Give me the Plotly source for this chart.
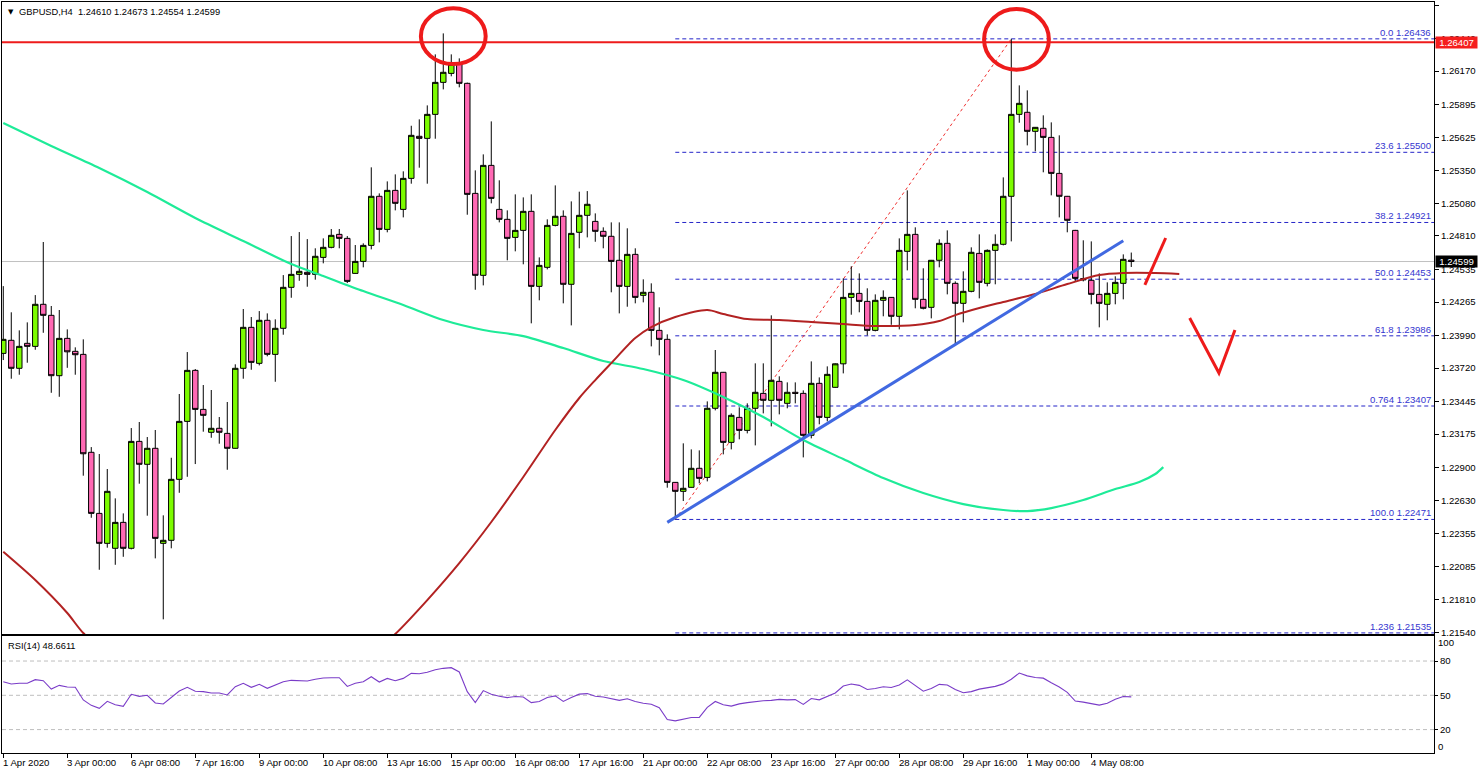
import plotly.graph_objects as go

# ---------------- data ----------------
symbol_title = "GBPUSD,H4  1.24610 1.24673 1.24554 1.24599"

opens = [1.23841,1.23949,1.23718,1.23924,1.23899,1.24246,1.24155,1.23657,1.23965,1.23858,
         1.23833,1.23025,1.22521,1.22274,1.22233,1.22447,1.22233,1.23115,1.22926,1.23058,
         1.22274,1.22299,1.22802,1.23280,1.23701,1.23379,1.23190,1.23223,1.23181,1.23058,
         1.23718,1.24056,1.23759,1.24114,1.23833,1.24048,1.24386,1.24493,1.24510,1.24493,
         1.24633,1.24716,1.24823,1.24790,1.24501,1.24600,1.24732,1.25137,1.24864,1.25186,
         1.25029,1.25285,1.25632,1.25615,1.25813,1.26077,1.26151,1.26234,1.26069,1.25161,
         1.24485,1.25392,1.25029,1.24947,1.24798,1.24856,1.25013,1.24394,1.24551,1.24897,
         1.24972,1.24411,1.24840,1.24980,1.24930,1.24848,1.24807,1.24609,1.24394,1.24658,
         1.24320,1.24345,1.24031,1.23957,1.22777,1.22703,1.22736,1.22893,1.22818,1.23388,
         1.23685,1.23107,1.23313,1.23206,1.23388,1.23511,1.23454,1.23610,1.23429,1.23520,
         1.23511,1.23165,1.23594,1.23313,1.23561,1.23755,1.24303,1.24336,1.24270,1.24031,
         1.24279,1.24303,1.24147,1.24683,1.24823,1.24287,1.24221,1.24609,1.24749,1.24419,
         1.24254,1.24353,1.24666,1.24419,1.24691,1.24741,1.25137,1.25813,1.25830,1.25673,
         1.25698,1.25623,1.25326,1.25137,1.24856,1.24458,1.24444,1.24328,1.24246,1.24336,
         1.24419,1.24610]
highs = [1.24396,1.24180,1.24031,1.24097,1.24322,1.24760,1.24232,1.24199,1.24039,1.23891,
         1.23957,1.23068,1.23011,1.22887,1.22645,1.22521,1.23225,1.23275,1.23151,1.23209,
         1.22505,1.22980,1.23506,1.23852,1.23712,1.23580,1.23539,1.23316,1.23440,1.23751,
         1.24207,1.24141,1.24190,1.24171,1.24122,1.24487,1.24809,1.24842,1.24784,1.24708,
         1.24790,1.24867,1.24867,1.24809,1.24735,1.24749,1.25376,1.25161,1.25260,1.25318,
         1.25343,1.25719,1.25772,1.25887,1.26308,1.26481,1.26308,1.26275,1.26075,1.25351,
         1.25483,1.25755,1.25269,1.25021,1.25153,1.25128,1.25153,1.24633,1.24947,1.25227,
         1.25021,1.25095,1.25175,1.25180,1.24996,1.24881,1.24922,1.24922,1.24873,1.24708,
         1.24452,1.24419,1.24221,1.23998,1.22780,1.23099,1.23049,1.23041,1.23445,1.23869,
         1.23688,1.23346,1.23396,1.23429,1.23759,1.23759,1.24155,1.23652,1.23602,1.23602,
         1.23536,1.23775,1.23643,1.23734,1.23759,1.24460,1.24559,1.24501,1.24378,1.24328,
         1.24361,1.24306,1.24790,1.25186,1.24881,1.24543,1.24612,1.24782,1.24856,1.24435,
         1.24518,1.24716,1.24823,1.24699,1.24823,1.25293,1.26436,1.26052,1.26011,1.25708,
         1.25805,1.25747,1.25640,1.25140,1.24860,1.24774,1.24765,1.24501,1.24427,1.24477,
         1.24658,1.24673]
lows = [1.23786,1.23632,1.23665,1.23764,1.23871,1.24011,1.23516,1.23483,1.23722,1.23665,
        1.22832,1.22485,1.22056,1.22238,1.22097,1.22163,1.22224,1.22766,1.22502,1.22150,
        1.21647,1.22233,1.22691,1.22823,1.22928,1.23195,1.23145,1.23096,1.22881,1.23055,
        1.23632,1.23706,1.23742,1.23817,1.23607,1.23995,1.24300,1.24440,1.24391,1.24449,
        1.24584,1.24708,1.24708,1.24421,1.24498,1.24551,1.24699,1.24757,1.24840,1.25021,
        1.24963,1.25241,1.25373,1.25241,1.25612,1.26019,1.26127,1.26036,1.24985,1.24366,
        1.24402,1.25079,1.24922,1.24609,1.24683,1.24576,1.24089,1.24279,1.24534,1.24889,
        1.24254,1.24072,1.24708,1.24798,1.24762,1.24708,1.24345,1.24171,1.24226,1.24254,
        1.24262,1.23899,1.23825,1.22733,1.22471,1.22623,1.22733,1.22769,1.22785,1.23371,
        1.23008,1.23049,1.23132,1.23181,1.23082,1.23346,1.23239,1.23338,1.23388,1.23429,
        1.22983,1.23140,1.23256,1.23280,1.23558,1.23676,1.24160,1.24180,1.23990,1.24023,
        1.24147,1.24077,1.24039,1.24526,1.24213,1.24204,1.24130,1.24551,1.24328,1.23912,
        1.24097,1.24345,1.24295,1.24394,1.24411,1.24732,1.24765,1.25744,1.25557,1.25508,
        1.25335,1.25145,1.24963,1.24840,1.24435,1.24435,1.24246,1.24056,1.24114,1.24246,
        1.24287,1.24554]
closes = [1.23957,1.23718,1.23899,1.23899,1.24246,1.24155,1.23657,1.23965,1.23854,1.23830,
          1.23013,1.22521,1.22274,1.22703,1.22447,1.22233,1.23115,1.22926,1.23058,1.22315,
          1.22299,1.22802,1.23280,1.23701,1.23379,1.23330,1.23223,1.23190,1.23058,1.23718,
          1.24056,1.23767,1.24114,1.23833,1.24048,1.24386,1.24493,1.24518,1.24493,1.24642,
          1.24716,1.24815,1.24790,1.24435,1.24600,1.24732,1.25137,1.24864,1.25186,1.25079,
          1.25285,1.25640,1.25615,1.25813,1.26077,1.26160,1.26226,1.26069,1.25153,1.24485,
          1.25392,1.25120,1.24947,1.24790,1.24856,1.25013,1.24394,1.24567,1.24897,1.24972,
          1.24411,1.24831,1.24980,1.25071,1.24848,1.24807,1.24600,1.24394,1.24658,1.24303,
          1.24345,1.24031,1.23957,1.22777,1.22703,1.22728,1.22893,1.22810,1.23388,1.23685,
          1.23107,1.23330,1.23206,1.23388,1.23520,1.23454,1.23619,1.23454,1.23520,1.23511,
          1.23165,1.23594,1.23313,1.23668,1.23755,1.24303,1.24336,1.24270,1.24031,1.24279,
          1.24303,1.24147,1.24691,1.24823,1.24287,1.24213,1.24609,1.24749,1.24419,1.24254,
          1.24353,1.24675,1.24427,1.24691,1.24741,1.25137,1.25813,1.25904,1.25673,1.25706,
          1.25623,1.25326,1.25137,1.24939,1.24460,1.24448,1.24328,1.24254,1.24336,1.24427,
          1.24617,1.24599]

rsi_values = [61.9,59.9,60.5,60.5,63.7,62.8,55.5,58.7,57.3,57.0,
              45.9,41.2,38.6,44.7,41.8,40.3,50.9,49.1,50.0,43.3,
              42.4,48.2,53.8,57.0,53.5,53.2,52.0,52.0,50.3,57.6,
              60.5,57.0,59.6,56.1,58.7,61.9,63.1,63.1,62.5,64.0,
              65.1,65.4,65.4,57.8,60.5,61.9,66.3,61.6,64.8,62.8,
              64.8,69.2,68.9,70.1,72.4,73.6,74.2,70.4,53.2,43.6,
              54.1,50.9,49.1,48.0,49.0,48.5,43.6,44.6,48.0,49.5,
              44.6,48.0,51.0,51.5,49.1,48.5,47.0,45.6,47.0,44.6,
              43.0,42.2,39.2,28.8,27.6,29.2,30.6,30.7,39.5,44.6,
              41.8,40.5,42.5,43.6,44.7,45.2,45.6,46.4,46.0,46.2,
              42.0,47.2,46.0,48.8,52.0,58.1,59.9,58.7,55.1,56.0,
              57.5,56.8,59.0,63.5,58.9,53.6,56.0,59.6,59.0,55.0,
              52.2,53.2,55.4,56.5,57.8,60.0,64.0,69.5,67.0,65.6,
              65.0,61.0,57.3,52.6,45.0,44.0,43.0,41.4,43.0,46.5,
              49.0,48.66]
rsi_label = "RSI(14) 48.6611"

# moving averages (bar number, price)
ma_green_bar = [0,6,12,18,24,30,36,40,45,50,55,60,65,70,75,80,85,90,95,100,
                105,110,115,120,125,128,131,135,139,142,144,145]
ma_green_val = [1.25741,1.25552,1.25370,1.25172,1.24958,1.24768,1.24578,1.24479,1.24355,1.24240,
                1.24116,1.24034,1.23984,1.23885,1.23778,1.23712,1.23621,1.23481,1.23316,1.23126,
                1.22969,1.22813,1.22689,1.22598,1.22549,1.22540,1.22565,1.22631,1.22722,1.22780,
                1.22846,1.22903]
ma_red_bar = [0,4,8,10,14,20,30,40,46,49,53,57,61,65,69,72,74,76,79,81,84,88,90,93,97,101,
              105,109,114,117,119,122,125,129,133,137,140,144,147]
ma_red_val = [1.22204,1.21971,1.21699,1.21534,1.21311,1.21063,1.20898,1.21146,1.21352,1.21526,
              1.21806,1.22111,1.22450,1.22821,1.23209,1.23473,1.23621,1.23761,1.23968,1.24058,
              1.24141,1.24199,1.24166,1.24124,1.24116,1.24100,1.24083,1.24067,1.24075,1.24108,
              1.24157,1.24215,1.24265,1.24331,1.24413,1.24487,1.24504,1.24504,1.24496]

fib_names = ["0.0", "23.6", "38.2", "50.0", "61.8", "0.764", "100.0", "1.236"]
fib_levels = [1.26436, 1.25500, 1.24921, 1.24453, 1.23986, 1.23407, 1.22471, 1.21535]
fib_low_bar, fib_high_bar = 84, 126

resistance_level = 1.26407
last_price = 1.24599

price_ticks = [1.26715, 1.26440, 1.26170, 1.25895, 1.25625, 1.25350, 1.25080, 1.24810,
               1.24535, 1.24265, 1.23990, 1.23720, 1.23445, 1.23175, 1.22900, 1.22630,
               1.22355, 1.22085, 1.21810, 1.21540]
rsi_ticks = [80, 50, 20]

time_tick_bars = [0, 8, 16, 24, 32, 40, 48, 56, 64, 72, 80, 88, 96, 104, 112, 120, 128, 136]
time_tick_text = ["1 Apr 2020", "3 Apr 00:00", "6 Apr 08:00", "7 Apr 16:00", "9 Apr 00:00",
                  "10 Apr 08:00", "13 Apr 16:00", "15 Apr 00:00", "16 Apr 08:00", "17 Apr 16:00",
                  "21 Apr 00:00", "22 Apr 08:00", "23 Apr 16:00", "27 Apr 00:00", "28 Apr 08:00",
                  "29 Apr 16:00", "1 May 00:00", "4 May 08:00"]

# trend line drawn on the chart (bar, price)
trend_bars = [83, 140]
trend_prices = [1.22447, 1.24770]

# ---------------- figure ----------------
bars = list(range(len(opens)))
W, H = 1480, 774
ML, MR, MT, MB = 2, 46, 2, 21
plot_h = H - MT - MB
main_bottom_px, rsi_top_px = 634, 636
main_dom = [(H - MB - main_bottom_px) / plot_h, 1.0]
rsi_dom = [0.0, (H - MB - rsi_top_px) / plot_h]
XR = [-0.16, 178.84]
YR = [1.21526, 1.26740]
RR = [-0.5, 101.9]

FONT = "Liberation Sans, Arial, DejaVu Sans, sans-serif"
FS = 9.6
RED = "#EE1B1B"

fig = go.Figure()

fig.add_trace(go.Scatter(x=ma_green_bar, y=ma_green_val, mode="lines",
                         line=dict(color="#1EEB98", width=2.2, shape="spline", smoothing=0.8),
                         xaxis="x", yaxis="y", hoverinfo="skip"))
fig.add_trace(go.Scatter(x=ma_red_bar, y=ma_red_val, mode="lines",
                         line=dict(color="#B22222", width=2, shape="spline", smoothing=0.8),
                         xaxis="x", yaxis="y", hoverinfo="skip"))

fig.add_trace(go.Candlestick(
    x=bars, open=opens, high=highs, low=lows, close=closes,
    increasing=dict(fillcolor="#7CFC00", line=dict(color="black", width=1)),
    decreasing=dict(fillcolor="#FF69B4", line=dict(color="black", width=1)),
    whiskerwidth=0, xaxis="x", yaxis="y", hoverinfo="skip"))

fig.add_trace(go.Scatter(x=bars, y=rsi_values, mode="lines",
                         line=dict(color="#7A3CC8", width=1.1),
                         xaxis="x2", yaxis="y2", hoverinfo="skip"))

shapes = []
# horizontal resistance and last price line
shapes.append(dict(type="line", xref="x", yref="y", x0=XR[0], x1=XR[1],
                   y0=last_price, y1=last_price, line=dict(color="#C0C0C0", width=1), layer="below"))
shapes.append(dict(type="line", xref="x", yref="y", x0=XR[0], x1=XR[1],
                   y0=resistance_level, y1=resistance_level, line=dict(color=RED, width=2), layer="below"))
# fibonacci levels
for lv in fib_levels:
    shapes.append(dict(type="line", xref="x", yref="y", x0=fib_low_bar, x1=XR[1], y0=lv, y1=lv,
                       line=dict(color="#2424C8", width=1, dash="4px,3px"), layer="below"))
# fibonacci base line (dotted red)
shapes.append(dict(type="line", xref="x", yref="y", x0=fib_low_bar, x1=fib_high_bar,
                   y0=fib_levels[6], y1=fib_levels[0], line=dict(color="#F03030", width=1, dash="dot"),
                   layer="below"))
# blue trend line
shapes.append(dict(type="line", xref="x", yref="y", x0=trend_bars[0], x1=trend_bars[1],
                   y0=trend_prices[0], y1=trend_prices[1], line=dict(color="#4169E1", width=3)))
# red circles around the two tops
shapes.append(dict(type="circle", xref="x", yref="y", x0=52.2, x1=60.3, y0=1.26228, y1=1.26688,
                   line=dict(color=RED, width=4)))
shapes.append(dict(type="circle", xref="x", yref="y", x0=122.6, x1=130.7, y0=1.26181, y1=1.26682,
                   line=dict(color=RED, width=4)))
# red hand-drawn strokes
shapes.append(dict(type="line", xref="x", yref="y", x0=142.7, x1=145.3, y0=1.24407, y1=1.24793,
                   line=dict(color=RED, width=3)))
shapes.append(dict(type="path", xref="x", yref="y",
                   path="M148.3,1.24133 L151.96,1.23679 L153.96,1.24034",
                   line=dict(color=RED, width=3)))
# RSI levels
for lv in rsi_ticks:
    shapes.append(dict(type="line", xref="x2", yref="y2", x0=XR[0], x1=XR[1], y0=lv, y1=lv,
                       line=dict(color="#BEBEBE", width=1, dash="4px,3px"), layer="below"))

annotations = []
annotations.append(dict(xref="paper", yref="paper", x=0, y=1, xanchor="left", yanchor="top",
                        xshift=4, yshift=-4, text="▼", showarrow=False,
                        font=dict(family="DejaVu Sans", size=7, color="black")))
annotations.append(dict(xref="paper", yref="paper", x=0, y=1, xanchor="left", yanchor="top",
                        xshift=15, yshift=-3, text=symbol_title, showarrow=False,
                        font=dict(family=FONT, size=9.3, color="black")))
annotations.append(dict(xref="paper", yref="paper", x=0, y=rsi_dom[1], xanchor="left", yanchor="top",
                        xshift=4, yshift=-3, text=rsi_label, showarrow=False,
                        font=dict(family=FONT, size=9.3, color="black")))
for name, lv in zip(fib_names, fib_levels):
    annotations.append(dict(xref="paper", yref="y", x=1, y=lv, xanchor="right", yanchor="bottom",
                            xshift=-1, yshift=-1, text=f"{name} {lv:.5f}", showarrow=False,
                            font=dict(family=FONT, size=FS, color="#3535CF")))
annotations.append(dict(xref="paper", yref="y", x=1, y=resistance_level, xanchor="left", yanchor="middle",
                        xshift=1, text=f"{resistance_level:.5f}", showarrow=False, bgcolor="#F51E1E",
                        width=41, height=11, borderpad=0,
                        font=dict(family=FONT, size=FS, color="white")))
annotations.append(dict(xref="paper", yref="y", x=1, y=last_price, xanchor="left", yanchor="middle",
                        xshift=1, text=f"{last_price:.5f}", showarrow=False, bgcolor="black",
                        width=41, height=11, borderpad=0,
                        font=dict(family=FONT, size=FS, color="white")))
for val, lbl in [(95.8, "100"), (5.0, "0")]:
    annotations.append(dict(xref="paper", yref="y2", x=1, y=val, xanchor="left", yanchor="middle",
                            xshift=2, text=lbl, showarrow=False,
                            font=dict(family=FONT, size=FS, color="black")))
for b, t in zip(time_tick_bars, time_tick_text):
    annotations.append(dict(xref="x2", yref="paper", x=b, y=0, xanchor="left", yanchor="top",
                            xshift=-2, yshift=-2, text=t, showarrow=False,
                            font=dict(family=FONT, size=FS, color="black")))

axis_common = dict(showgrid=False, zeroline=False, showline=True, linecolor="black",
                   linewidth=1, mirror=True)

fig.update_layout(
    width=W, height=H,
    margin=dict(l=ML, r=MR, t=MT, b=MB),
    paper_bgcolor="white", plot_bgcolor="white",
    showlegend=False, boxgap=0.32, boxgroupgap=0,
    font=dict(family=FONT, size=FS, color="black"),
    xaxis=dict(domain=[0, 1], range=XR, anchor="y", showticklabels=False, ticks="",
               rangeslider=dict(visible=False), **axis_common),
    yaxis=dict(domain=main_dom, range=YR, anchor="x", side="right", tickmode="array",
               tickvals=price_ticks, ticktext=[f"{v:.5f}" for v in price_ticks],
               ticks="outside", ticklen=4, tickcolor="black",
               tickfont=dict(family=FONT, size=FS, color="black"), automargin=False, **axis_common),
    xaxis2=dict(domain=[0, 1], range=XR, anchor="y2", tickmode="array", tickvals=time_tick_bars,
                showticklabels=False, ticks="outside", ticklen=4, tickcolor="black", **axis_common),
    yaxis2=dict(domain=rsi_dom, range=RR, anchor="x2", side="right", tickmode="array",
                tickvals=rsi_ticks, ticktext=[str(v) for v in rsi_ticks],
                ticks="outside", ticklen=3, tickcolor="black",
                tickfont=dict(family=FONT, size=FS, color="black"), automargin=False, **axis_common),
    shapes=shapes, annotations=annotations,
)

fig.write_html("out.html", config={"displayModeBar": False},
               post_script="document.body.style.margin='0';document.body.style.overflow='hidden';")
